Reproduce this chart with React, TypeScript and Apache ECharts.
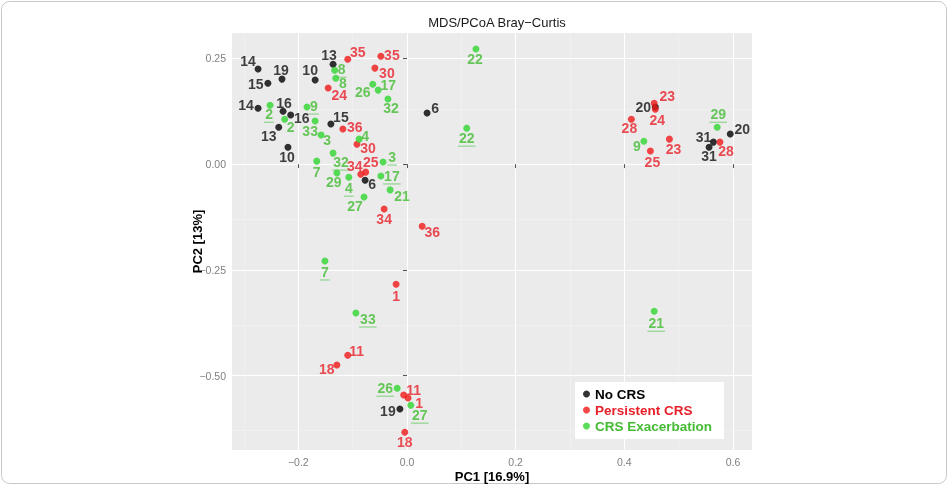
import React, { useEffect, useRef } from "react";
import * as echarts from "echarts";

// ---- data ----
const noCrsIds = ["14", "19", "15", "10", "13", "14", "16", "16", "13", "15", "10", "6", "6", "20", "31", "31", "20", "19"];
const noCrsPC1 = [-0.274, -0.230, -0.256, -0.169, -0.136, -0.274, -0.228, -0.214, -0.236, -0.140, -0.219, 0.037, -0.077, 0.457, 0.564, 0.556, 0.595, -0.013];
const noCrsPC2 = [0.225, 0.201, 0.191, 0.199, 0.236, 0.132, 0.125, 0.116, 0.087, 0.095, 0.040, 0.121, -0.038, 0.135, 0.052, 0.040, 0.071, -0.579];

const persIds = ["35", "35", "30", "24", "36", "30", "25", "34", "34", "36", "23", "24", "28", "23", "25", "28", "1", "11", "18", "11", "1", "18"];
const persPC1 = [-0.109, -0.048, -0.059, -0.145, -0.118, -0.092, -0.076, -0.085, -0.042, 0.028, 0.455, 0.457, 0.413, 0.483, 0.448, 0.576, -0.020, -0.109, -0.129, -0.006, 0.002, -0.004];
const persPC2 = [0.248, 0.255, 0.227, 0.180, 0.083, 0.047, -0.019, -0.024, -0.106, -0.147, 0.144, 0.130, 0.106, 0.059, 0.031, 0.052, -0.284, -0.452, -0.475, -0.546, -0.553, -0.634];

const exacIds = ["8", "8", "26", "17", "32", "2", "9", "2", "33", "3", "4", "32", "7", "3", "29", "4", "17", "21", "27", "22", "22", "9", "29", "7", "33", "21", "26", "27"];
const exacPC1 = [-0.133, -0.131, -0.063, -0.053, -0.035, -0.252, -0.184, -0.225, -0.169, -0.158, -0.088, -0.136, -0.166, -0.044, -0.129, -0.107, -0.048, -0.031, -0.079, 0.127, 0.110, 0.436, 0.571, -0.151, -0.094, 0.455, -0.018, 0.007];
const exacPC2 = [0.222, 0.203, 0.189, 0.175, 0.154, 0.139, 0.135, 0.106, 0.102, 0.069, 0.059, 0.026, 0.007, 0.005, -0.021, -0.031, -0.028, -0.061, -0.078, 0.272, 0.085, 0.054, 0.087, -0.229, -0.352, -0.348, -0.530, -0.570];
// underlined labels (exacerbation time point)
const exacUnderlined = [true, false, false, false, false, true, true, false, false, false, false, true, false, true, false, true, true, false, false, false, true, false, true, true, true, true, true, true];

const xTicks = [-0.2, 0, 0.2, 0.4, 0.6];
const yTicks = [0.25, 0, -0.25, -0.5];
const xMinor = [-0.3, -0.1, 0.1, 0.3, 0.5];
const yMinor = [0.125, -0.125, -0.375, -0.625];

// ---- label placement (layout only) ----
const noCrsLabelOff = [[-10, -8], [-1, -9], [-12, 1], [-5, -10], [-4, -9], [-12, -3], [1, -8], [11, 3], [-10, 9], [10, -7], [-1, 10], [8, -5], [7, 4], [-12, 0], [-10, -5], [0, 9], [12, -5], [-12, 2]];
const persLabelOff = [[10, -7], [11, -1], [12, 5], [11, 7], [12, -2], [11, 4], [5, -10], [-6, -8], [0, 10], [10, 6], [13, -7], [2, 11], [-2, 9], [4, 10], [2, 11], [6, 9], [0, 12], [9, -4], [-10, 4], [10, -5], [11, 5], [0, 10]];
const exacLabelOff = [[7, -1], [7, 5], [-10, 8], [10, -5], [3, 9], [-1, 9], [7, -1], [6, 8], [-5, 10], [6, 5], [6, -3], [8, 9], [0, 11], [9, -5], [-3, 9], [0, 11], [11, 0], [12, 6], [-9, 9], [-1, 10], [0, 10], [-7, 5], [1, -13], [0, 11], [12, 6], [2, 12], [-12, 0], [9, 10]];

const BLACK = "#000000";
const RED = "#f01818";
const GREEN = "#2fd62f";
const RED_TXT = "#e8202a";
const GREEN_TXT = "#44bb33";
const FONT = "Liberation Sans, Arial, sans-serif";

const fmt = (v: number, d: number) => (v < 0 ? "\u2212" : "") + Math.abs(v).toFixed(d);

function build(ids: string[], xs: number[], ys: number[], offs: number[][]) {
  return ids.map((id, i) => ({ name: id, value: [xs[i], ys[i]], label: { offset: offs[i] } }));
}

export default function App() {
  const ref = useRef<HTMLDivElement>(null);
  useEffect(() => {
    if (!ref.current) return;
    const chart = echarts.init(ref.current, undefined, { renderer: "svg" });
    const labelBase = (color: string) => ({
      show: true,
      position: "inside",
      formatter: "{b}",
      color,
      fontSize: 14,
      fontWeight: "bold",
      fontFamily: FONT,
    });
    const underlineData = exacIds
      .map((id, i) => ({ id, i }))
      .filter((d) => exacUnderlined[d.i])
      .map(({ id, i }) => ({
        value: [exacPC1[i], exacPC2[i]],
        symbolSize: [id.length * 7.8 + 2, 1.3],
        symbolOffset: [exacLabelOff[i][0], exacLabelOff[i][1] + 8],
      }));
    const gridLines = [
      ...xMinor.map((v) => ({ xAxis: v, lineStyle: { color: "#f4f4f4", width: 0.6 } })),
      ...yMinor.map((v) => ({ yAxis: v, lineStyle: { color: "#f4f4f4", width: 0.6 } })),
      ...xTicks.map((v) => ({ xAxis: v, lineStyle: { color: "#ffffff", width: 1.1 } })),
      ...yTicks.map((v) => ({ yAxis: v, lineStyle: { color: "#ffffff", width: 1.1 } })),
    ];
    chart.setOption({
      animation: false,
      title: {
        text: "MDS/PCoA Bray\u2212Curtis",
        left: 492,
        textAlign: "center",
        top: 11,
        textStyle: { fontSize: 13, fontWeight: "normal", color: "#1a1a1a", fontFamily: FONT },
      },
      graphic: [
        {
          type: "rect",
          shape: { x: 1.5, y: 1.5, width: 945, height: 482, r: 8 },
          style: { fill: "none", stroke: "#c8c8c8", lineWidth: 1 },
          silent: true,
          z: -10,
        },
      ],
      grid: {
        left: 232,
        right: 197,
        top: 33,
        bottom: 36,
        outerBoundsMode: "none",
        containLabel: false,
        show: true,
        backgroundColor: "#ebebeb",
        borderWidth: 0,
      },
      legend: {
        orient: "vertical",
        left: 575,
        top: 382,
        backgroundColor: "#ffffff",
        padding: [5, 12, 6, 8],
        itemGap: 2,
        itemWidth: 7,
        itemHeight: 7,
        icon: "circle",
        textStyle: { fontSize: 13.5, fontWeight: "bold", fontFamily: FONT },
        data: [
          { name: "No CRS", textStyle: { color: BLACK } },
          { name: "Persistent CRS", textStyle: { color: RED_TXT } },
          { name: "CRS Exacerbation", textStyle: { color: GREEN_TXT } },
        ],
      },
      xAxis: {
        type: "value",
        min: -0.322,
        max: 0.635,
        name: "PC1 [16.9%]",
        nameLocation: "middle",
        nameGap: 20,
        nameMoveOverlap: false,
        nameTextStyle: { fontSize: 13, fontWeight: "bold", color: "#000", fontFamily: FONT },
        axisLine: { show: false },
        splitLine: { show: false },
        axisTick: { show: true, customValues: xTicks, length: 4, lineStyle: { color: "#555" } },
        axisLabel: {
          customValues: xTicks,
          formatter: (v: number) => fmt(v, 1),
          color: "#7f7f7f",
          fontSize: 10.5,
          margin: 6,
          fontFamily: FONT,
        },
      },
      yAxis: {
        type: "value",
        min: -0.676,
        max: 0.31,
        name: "PC2 [13%]",
        nameLocation: "middle",
        nameGap: 28,
        nameMoveOverlap: false,
        nameTextStyle: { fontSize: 13, fontWeight: "bold", color: "#000", fontFamily: FONT },
        axisLine: { show: false },
        splitLine: { show: false },
        axisTick: { show: true, customValues: yTicks, length: 4, lineStyle: { color: "#555" } },
        axisLabel: {
          customValues: yTicks,
          formatter: (v: number) => fmt(v, 2),
          color: "#7f7f7f",
          fontSize: 10.5,
          margin: 6,
          fontFamily: FONT,
        },
      },
      series: [
        {
          type: "scatter",
          name: "__grid",
          data: [],
          z: 0,
          silent: true,
          markLine: {
            z: 0,
            silent: true,
            symbol: ["none", "none"],
            label: { show: false },
            lineStyle: { type: "solid" },
            data: gridLines,
          },
        },
        {
          type: "scatter",
          name: "__underline",
          symbol: "rect",
          itemStyle: { color: "#7fd17f" },
          data: underlineData,
          z: 8,
          silent: true,
        },
        {
          type: "scatter",
          name: "No CRS",
          symbolSize: 7,
          itemStyle: { color: BLACK },
          label: labelBase("#111111"),
          data: build(noCrsIds, noCrsPC1, noCrsPC2, noCrsLabelOff),
          z: 10,
        },
        {
          type: "scatter",
          name: "Persistent CRS",
          symbolSize: 7,
          itemStyle: { color: RED },
          label: labelBase(RED_TXT),
          data: build(persIds, persPC1, persPC2, persLabelOff),
          z: 10,
        },
        {
          type: "scatter",
          name: "CRS Exacerbation",
          symbolSize: 7,
          itemStyle: { color: GREEN },
          label: labelBase(GREEN_TXT),
          data: build(exacIds, exacPC1, exacPC2, exacLabelOff),
          z: 10,
        },
      ],
    });
    return () => chart.dispose();
  }, []);
  return <div ref={ref} style={{ position: "fixed", left: 0, top: 0, width: 949, height: 486 }} />;
}
